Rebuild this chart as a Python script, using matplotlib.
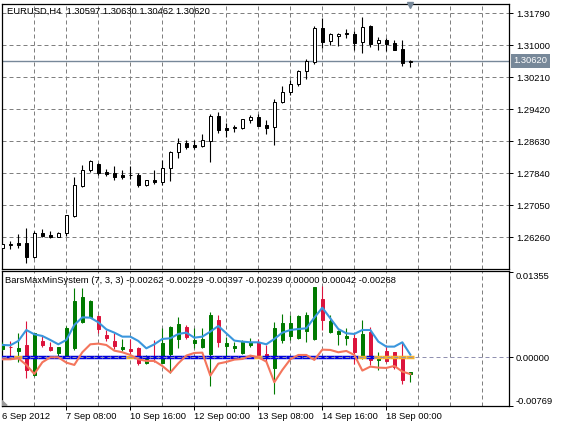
import matplotlib
matplotlib.use("Agg")
import matplotlib.pyplot as plt

plt.rcParams["font.family"] = ["Liberation Sans", "DejaVu Sans"]
FONT = 6.75

price_open = [1.26005, 1.26079, 1.26112, 1.26112, 1.25766, 1.26367, 1.26309, 1.26276, 1.26359, 1.26795, 1.27536, 1.27914, 1.28062,
              1.27873, 1.2784, 1.27799, 1.27799, 1.27799, 1.2756, 1.27667, 1.27634, 1.27964, 1.28359, 1.28597, 1.28531, 1.28523,
              1.28647, 1.29247, 1.28951, 1.28976, 1.28968, 1.29165, 1.29223, 1.29025, 1.28976, 1.29593, 1.2984, 1.30038, 1.30367,
              1.30581, 1.3142, 1.31116, 1.31223, 1.31297, 1.31272, 1.31075, 1.31478, 1.31066, 1.31124, 1.31058, 1.30902, 1.30597]
price_high = [1.26112, 1.26178, 1.26342, 1.2649, 1.26425, 1.26458, 1.26408, 1.26383, 1.26803, 1.2775, 1.28046, 1.28169, 1.28087,
              1.27955, 1.28021, 1.27922, 1.28029, 1.2784, 1.27667, 1.27922, 1.28169, 1.28392, 1.28713, 1.28663, 1.28663, 1.28811,
              1.29297, 1.29354, 1.29091, 1.29034, 1.2919, 1.2928, 1.29305, 1.29157, 1.29675, 1.29996, 1.30145, 1.30391, 1.30655,
              1.31478, 1.31684, 1.31297, 1.31297, 1.31404, 1.31346, 1.31692, 1.31503, 1.31198, 1.31173, 1.31132, 1.31132, 1.3063]
price_low = [1.25988, 1.25964, 1.25988, 1.25618, 1.25742, 1.2626, 1.26252, 1.2626, 1.26293, 1.2677, 1.27511, 1.27873, 1.27807,
             1.27774, 1.27676, 1.277, 1.27708, 1.27503, 1.27536, 1.27585, 1.27552, 1.27651, 1.28219, 1.28441, 1.28449, 1.2849,
             1.2812, 1.28836, 1.28745, 1.28861, 1.28943, 1.29083, 1.29009, 1.28811, 1.2854, 1.29585, 1.29774, 1.29996, 1.30169,
             1.3054, 1.30943, 1.31009, 1.30992, 1.3119, 1.30885, 1.30819, 1.30968, 1.30893, 1.3086, 1.30885, 1.3049, 1.30462]
price_close = [1.26087, 1.26087, 1.26071, 1.25766, 1.26359, 1.26301, 1.26276, 1.26359, 1.26803, 1.27544, 1.27914, 1.28136, 1.27857,
               1.27824, 1.27758, 1.27758, 1.27791, 1.2756, 1.27667, 1.27634, 1.27964, 1.28359, 1.28581, 1.28499, 1.28499, 1.28655,
               1.29247, 1.28918, 1.28918, 1.28951, 1.29173, 1.29223, 1.29009, 1.28968, 1.29593, 1.2984, 1.30038, 1.30367, 1.30605,
               1.3142, 1.31091, 1.31272, 1.31272, 1.31272, 1.31066, 1.31461, 1.31033, 1.31124, 1.31042, 1.30893, 1.30573, 1.3062]

sys_open = [.00133, .0017, .00101, .00196, -.00281, .0026, .00165, .00069, .00005, .00143, .00558, .00643, .00658, .00361, .0026,
            .00133, .00133, .00143, -.00085, .00021, -.00085, .00053, .00292, .00489, .00234, .00159, .00053, .00595, .00181,
            .00154, .00064, .00196, .00239, .00053, -.00165, .00276, .00345, .00313, .00425, .00292, .00929, .00409, .00372,
            .00313, .00308, 0.0, .00409, -.00042, .00101, .0008, -.00027, -.00262]
sys_high = [.0025, .0026, .00382, .00579, .00382, .00345, .0025, .0017, .00504, .0111, .0111, .00913, .00674, .00435, .00382,
            .00292, .00292, .0017, .00037, .00276, .00462, .00494, .00643, .00515, .00462, .00462, .00717, .00674, .00324,
            .0025, .00276, .00303, .00292, .00196, .00558, .00685, .00674, .00674, .00717, .01126, .01131, .00674, .00435,
            .00462, .00382, .00595, .00489, .0009, .00196, .0008, .00239, -.00229]
sys_low = [.00112, .00011, -.00069, -.00324, -.00292, .00165, .00096, .00027, -.00016, .00122, .00547, .00632, .00382, .0026, .00127,
           .00101, .00048, -.00122, -.00101, -.00069, -.00096, -.00255, .00143, .00292, .00143, .00143, -.00451, .0017, .00011,
           .0008, .00048, .0017, -.00016, -.00069, -.00589, .00223, .00276, .00292, .0025, .00276, .00435, .00382, .00196,
           .00196, -.00112, -.00027, -.00122, -.00196, -.00069, -.00186, -.00419, -.00397]
sys_close = [.00218, .00159, .00149, -.00202, .00382, .00191, .00117, .00165, .00473, .00897, .00961, .00903, .00451, .00303, .00175,
             .00159, .00096, -.00085, -.00032, 0.0, .00228, .00483, .00526, .00329, .00276, .00292, .00674, .00244, .00228,
             .00181, .0026, .0025, .00037, .00021, .00462, .00552, .00542, .00664, .00674, .01126, .00595, .00579, .00425,
             .00345, .0009, .00372, -.00042, -.00005, -.00053, -.00149, -.00361, -.00239]
upper_line = [.00196, .00191, .0026, .00435, .00366, .0034, .00276, .00207, .00276, .00515, .00637, .00632, .00558, .00446, .00393,
              .00329, .00329, .0026, .00143, .00207, .00292, .00303, .00372, .00393, .00313, .00329, .00409, .00499, .00382,
              .00266, .0025, .00239, .00239, .00207, .00292, .00393, .00435, .00451, .00462, .00632, .00791, .00621, .00451,
              .00382, .00372, .00435, .00435, .0025, .0017, .0017, .00239, .00042]
lower_line = [-.00032, -.00032, -.00016, -.00122, -.00266, -.0008, 0.0, 0.0, -.00085, -.00122, .0008, .00207, .00218, .00196, .00106,
              .0008, .00037, -.00032, -.00058, -.00058, -.00138, -.00244, -.00096, .00027, .00069, .00074, -.00292, -.00101,
              -.00074, -.00037, -.00027, .00027, 0.0, -.00069, -.00398, -.00202, -.00032, .00037, .00037, -.00042, .00122, .00117,
              .0008, .00101, .00037, -.00212, -.00149, -.00165, -.0017, -.00138, -.00228, -.00268]
signal_bars = [2, 16, 32, 45, 47, 48, 49, 50, 51]

price_ticks = [1.3179, 1.31, 1.3021, 1.2942, 1.2863, 1.2784, 1.2705, 1.2626]
sys_ticks = [0.01355, 0.0, -0.00769]
date_bars = [0, 8, 16, 24, 32, 40, 48]
date_labels = ["6 Sep 2012", "7 Sep 08:00", "10 Sep 16:00", "12 Sep 00:00", "13 Sep 08:00", "14 Sep 16:00", "18 Sep 00:00"]
last_price = 1.3062

W, H = 562, 426
GRID = dict(color="#808080", lw=0.72, ls=(0, (4, 3)), zorder=1)


def pane(top, bottom):
    return fig.add_axes([2 / W, 1 - bottom / H, 507.3 / W, (bottom - top) / H])


def draw_candles(ax, opens, highs, lows, closes, up_fc, up_ec, down_fc, down_ec, wick_up, wick_down):
    for i in range(len(opens)):
        up = closes[i] >= opens[i]
        ax.vlines(i, lows[i], highs[i], color=wick_up if up else wick_down, lw=0.8, zorder=3)
        ax.bar(i, abs(closes[i] - opens[i]), 0.42, min(opens[i], closes[i]),
               facecolor=up_fc if up else down_fc, edgecolor=up_ec if up else down_ec, lw=0.72, zorder=4)


fig = plt.figure(figsize=(W / 100, H / 100), dpi=100)
ax1 = pane(4.3, 269.3)
ax2 = pane(271, 405.5)

draw_candles(ax1, price_open, price_high, price_low, price_close, "white", "black", "black", "black", "black", "black")
draw_candles(ax2, sys_open, sys_high, sys_low, sys_close, "#007A00", "#007A00", "#DC143C", "#DC143C", "#007A00", "#DC143C")

for ax in (ax1, ax2):
    ax.set_xlim(-0.04, 63.37)
    for b in range(4, 64, 4):
        ax.axvline(b, **GRID)
    ax.yaxis.tick_right()
    ax.tick_params(axis="y", length=3, width=0.72, pad=1.8, labelsize=FONT)
    for s in ax.spines.values():
        s.set_linewidth(0.9)

# main pane
ax1.set_ylim(1.25470, 1.32012)
ax1.set_yticks(price_ticks, [f"{p:.5f}" for p in price_ticks])
ax1.set_xticks([])
for p in price_ticks:
    ax1.axhline(p, **GRID)
ax1.axhline(last_price, color="#778899", lw=1, zorder=2)
ax1.plot([51], [1.31985], marker="v", ms=5, color="#778899", clip_on=False, zorder=5)
ax1.text(6.7 / W, 1 - 11.7 / H, "EURUSD,H4  1.30597 1.30630 1.30462 1.30620", transform=fig.transFigure,
         fontsize=FONT, va="center", ha="left", zorder=6)
ax1.annotate(f"{last_price:.5f}", xy=(1, last_price), xycoords=("axes fraction", "data"), xytext=(3.2, 0),
             textcoords="offset points", fontsize=FONT, color="white", va="center", ha="left",
             bbox=dict(boxstyle="square,pad=0.25", fc="#778899", ec="#778899", lw=0), annotation_clip=False)

# indicator pane
ax2.set_ylim(-0.00768, 0.01376)
ax2.set_yticks(sys_ticks, [f"{t:.5f}" for t in sys_ticks])
ax2.get_yticklabels()[0].set_va("top")
ax2.get_yticklabels()[2].set_va("bottom")
for i in range(len(upper_line)):
    in_signal = i in signal_bars
    ax2.hlines(0, i - 0.5, i + 0.5, color="#F0B030" if in_signal else "#0000DD", lw=2.5, zorder=5)
ax2.axhline(0, **{**GRID, "zorder": 6, "color": "#9090B0"})
ax2.plot(range(len(upper_line)), upper_line, color="#3A96DD", lw=1.5, zorder=7)
ax2.plot(range(len(lower_line)), lower_line, color="#F4755C", lw=1.5, zorder=7)
ax2.set_xticks(date_bars, date_labels, fontsize=FONT, ha="left")
ax2.tick_params(axis="x", length=3, width=0.72, pad=1.5)
ax2.xaxis.get_major_ticks()[0].tick1line.set_visible(False)
ax2.fill([-0.04, -0.04, 0.6], [-0.00768, -0.0069, -0.00768], color="#999999", zorder=8)
ax2.text(5 / W, 1 - 280.7 / H, "BarsMaxMinSystem (7, 3, 3) -0.00262 -0.00229 -0.00397 -0.00239 0.00000 0.00042 -0.00268",
         transform=fig.transFigure, fontsize=FONT, va="center", ha="left", zorder=9)

fig.savefig("out.png", dpi=100)
